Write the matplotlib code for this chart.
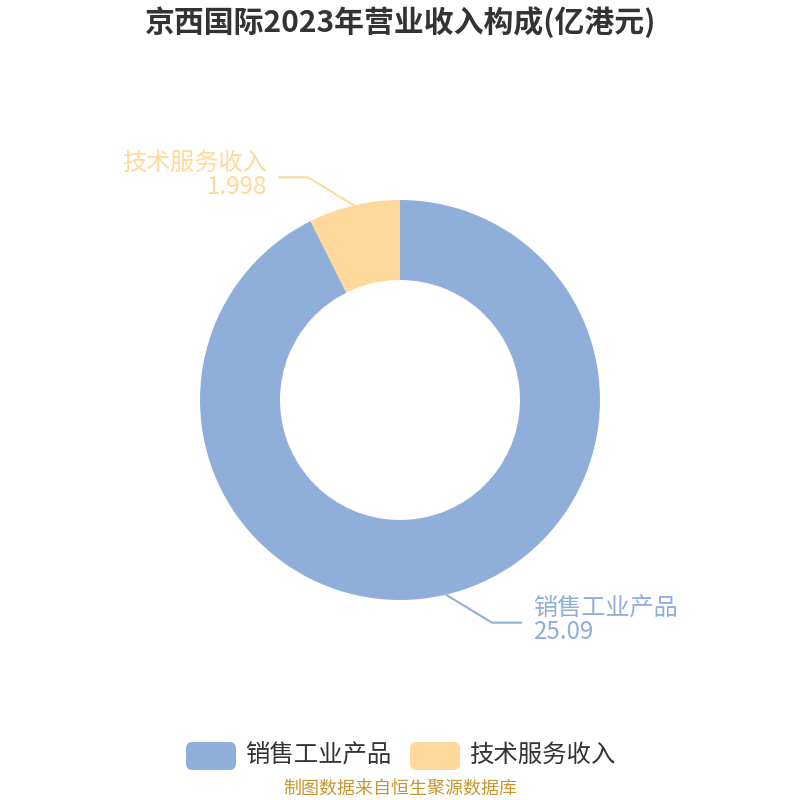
import numpy as np
import matplotlib.pyplot as plt
from matplotlib.patches import FancyBboxPatch

plt.rcParams['font.family'] = ['Noto Sans CJK SC', 'DejaVu Sans']

# data
categories = ['销售工业产品', '技术服务收入']
values = [25.09, 1.998]
value_labels = ['25.09', '1.998']
colors = ['#8FAEDA', '#FFD99C']
title = '京西国际2023年营业收入构成(亿港元)'
source = '制图数据来自恒生聚源数据库'

fig = plt.figure(figsize=(8, 8), dpi=100)
ax = fig.add_axes([0, 0, 1, 1])
ax.set_xlim(0, 800)
ax.set_ylim(0, 800)
ax.set_aspect('equal')
ax.axis('off')

cx, cy, r = 400, 400, 200
wedges, _ = ax.pie(values, colors=colors, startangle=90, counterclock=False,
                   radius=r, center=(cx, cy),
                   wedgeprops=dict(width=80, edgecolor='none'))
ax.set_xlim(0, 800)
ax.set_ylim(0, 800)

# leader lines and labels
for w, name, val, col in zip(wedges, categories, value_labels, colors):
    mid = np.deg2rad((w.theta1 + w.theta2) / 2)
    x0 = cx + r * np.cos(mid)
    y0 = cy + r * np.sin(mid)
    side = 1 if np.cos(mid) >= 0 else -1
    vside = 1 if np.sin(mid) >= 0 else -1
    x1 = x0 + side * 46
    y1 = y0 + vside * 28
    x2 = x1 + side * 30
    ax.plot([x0, x1, x2], [y0, y1, y1], color=col, lw=1.5,
            solid_capstyle='butt')
    tx = x2 + side * 11
    ha = 'left' if side > 0 else 'right'
    ax.text(tx, y1 + 14.5, name, color=col, fontsize=17.4, ha=ha, va='center')
    ax.text(tx, y1 - 9.5, val, color=col, fontsize=17.4, ha=ha, va='center')

fig.text(0.5, 1 - 22 / 800, title, fontsize=21.5, fontweight='bold',
         color='#333333', ha='center', va='center')

# legend
lx = 186
for name, col in zip(categories, colors):
    fig.patches.append(FancyBboxPatch((lx / 800, 1 - 770 / 800), 50 / 800, 28 / 800,
                                      boxstyle='round,pad=0,rounding_size=0.008',
                                      transform=fig.transFigure, facecolor=col,
                                      edgecolor='none'))
    fig.text((lx + 59) / 800, 1 - 755 / 800, name, fontsize=17.6, color='#333333',
             ha='left', va='center')
    lx += 224

fig.text(0.5, 1 - 789 / 800, source, fontsize=13, color='#C8962E',
         ha='center', va='center')

fig.savefig('out.png', dpi=100)
